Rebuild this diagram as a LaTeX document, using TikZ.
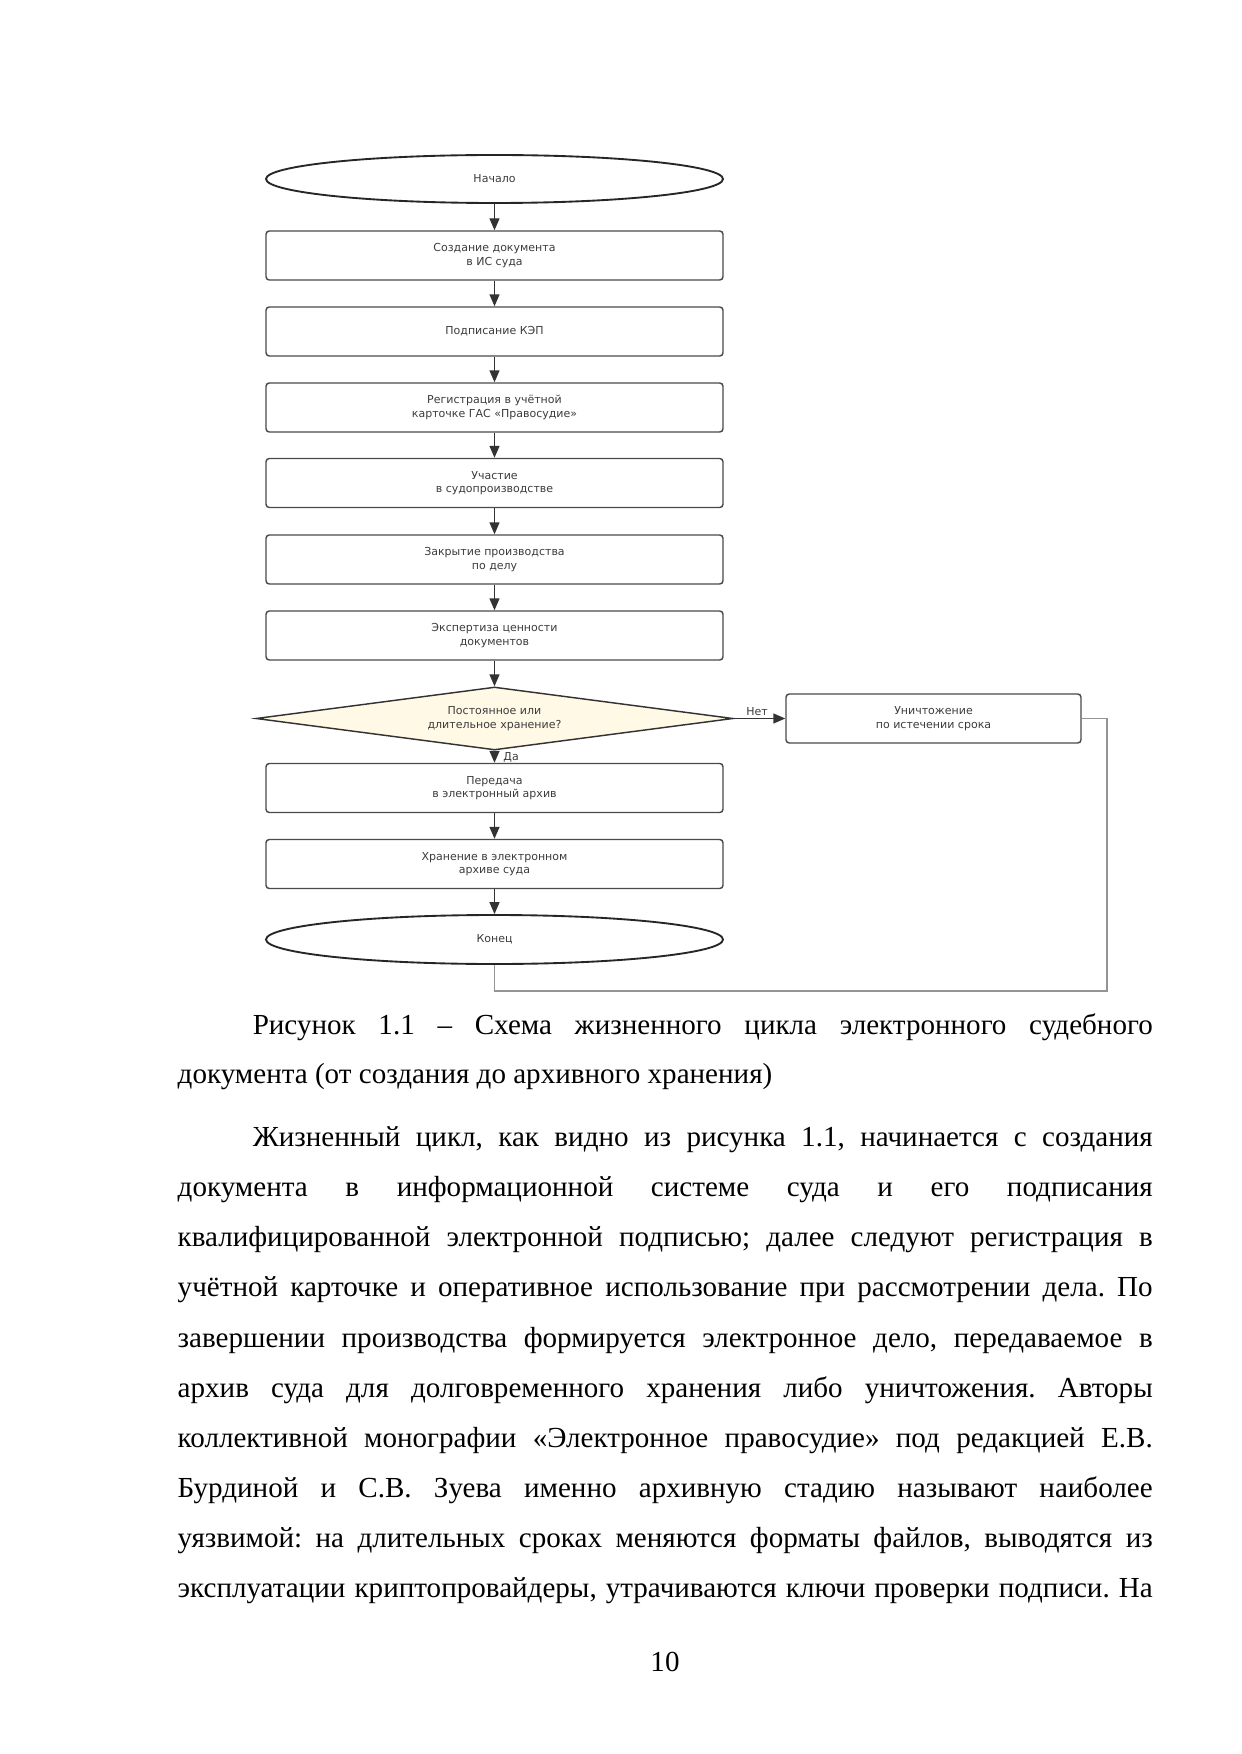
\documentclass[tikz,border=0pt]{standalone}
\usepackage{fontspec}
\setmainfont{Liberation Serif}
\newfontfamily\fcfont{DejaVu Sans}
\usetikzlibrary{shapes.geometric,arrows.meta}
\newlength\pxl
\setlength\pxl{0.169218mm}
\definecolor{lineclr}{HTML}{333333}
\definecolor{boxclr}{HTML}{4A4A4A}
\definecolor{txtclr}{HTML}{3C3C3C}
\definecolor{diafill}{RGB}{255,249,230}
\frenchspacing
\begin{document}
\begin{tikzpicture}[x=0.169218mm, y=-0.169218mm,
  fcfontstyle/.style={font=\fcfont\fontsize{5.3pt}{6.6pt}\selectfont, text=txtclr},
  fcbox/.style={draw=boxclr, line width=0.7pt, rounded corners=0.55mm, fill=white,
    minimum width=457\pxl, minimum height=49\pxl, inner sep=0pt, align=center, fcfontstyle},
  fcterm/.style={ellipse, draw=black!85, line width=0.9pt, fill=white,
    minimum width=457\pxl, minimum height=48\pxl, inner sep=0pt, fcfontstyle},
  fcdia/.style={diamond, draw=black!80, line width=0.7pt, fill=diafill,
    minimum width=477\pxl, minimum height=63\pxl, inner sep=0pt},
  fctext/.style={inner sep=0pt, align=center, fcfontstyle},
  flow/.style={draw=lineclr, line width=0.7pt, -{Triangle[length=2.03mm,width=1.69mm]}},
  backline/.style={draw=black!42, line width=0.6pt},
  flbl/.style={inner sep=0pt, fcfontstyle},
  bodyline/.style={anchor=base west, inner sep=0pt, font=\fontsize{14pt}{24pt}\selectfont},
]
\useasboundingbox (0,0) rectangle (1241,1754);
\fill[white] (0,0) rectangle (1241,1754);

% flowchart
\node[fcterm] (start) at (494.5,179) {Начало};
\node[fcbox] (b1) at (494.5,255.5) {Создание документа\\в ИС суда};
\node[fcbox] (b2) at (494.5,331.5) {Подписание КЭП};
\node[fcbox] (b3) at (494.5,407.5) {Регистрация в учётной\\карточке ГАС «Правосудие»};
\node[fcbox] (b4) at (494.5,483) {Участие\\в судопроизводстве};
\node[fcbox] (b5) at (494.5,559.5) {Закрытие производства\\по делу};
\node[fcbox] (b6) at (494.5,635.5) {Экспертиза ценности\\документов};
\node[fcdia] (dec) at (494.5,718.5) {};
\node[fctext] (dect) at (dec.center) {Постоянное или\\длительное хранение?};
\node[fcbox, minimum width=295\pxl] (dest) at (933.5,718.5) {Уничтожение\\по истечении срока};
\node[fcbox] (b7) at (494.5,788) {Передача\\в электронный архив};
\node[fcbox] (b8) at (494.5,864) {Хранение в электронном\\архиве суда};
\node[fcterm, minimum height=49\pxl] (end) at (494.5,939.5) {Конец};

\draw[flow] (start) -- (b1);
\draw[flow] (b1) -- (b2);
\draw[flow] (b2) -- (b3);
\draw[flow] (b3) -- (b4);
\draw[flow] (b4) -- (b5);
\draw[flow] (b5) -- (b6);
\draw[flow] (b6) -- (dec.north);
\draw[flow] (dec.south) -- (b7);
\draw[flow] (dec.east) -- (dest.west);
\draw[flow] (b7) -- (b8);
\draw[flow] (b8) -- (end);
\coordinate (rtop) at (1107,718.5);
\coordinate (rbot) at (1107,991);
\draw[backline] (dest.east) -- (rtop) -- (rbot) -| (end.south);
\node[flbl, anchor=base] (lno) at (757,715) {Нет};
\node[flbl, anchor=west] (lyes) at (503,757.5) {Да};

% caption
\node[bodyline] (c1) at (177.3,1034.3) {\hbox to 165mm{\hspace*{1.27cm}Рисунок 1.1 – Схема жизненного цикла электронного судебного}};
\node[bodyline] (c2) at (177.3,1083.3) {документа (от создания до архивного хранения)};

% paragraph
\node[bodyline] (l1) at (177.3,1146.7) {\hbox to 165mm{\hspace*{1.27cm}Жизненный цикл, как видно из рисунка 1.1, начинается с создания}};
\node[bodyline] (l2) at (177.3,1196.8) {\hbox to 165mm{документа в информационной системе суда и его подписания}};
\node[bodyline] (l3) at (177.3,1246.8) {\hbox to 165mm{квалифицированной электронной подписью; далее следуют регистрация в}};
\node[bodyline] (l4) at (177.3,1296.9) {\hbox to 165mm{учётной карточке и оперативное использование при рассмотрении дела. По}};
\node[bodyline] (l5) at (177.3,1347.0) {\hbox to 165mm{завершении производства формируется электронное дело, передаваемое в}};
\node[bodyline] (l6) at (177.3,1397.1) {\hbox to 165mm{архив суда для долговременного хранения либо уничтожения. Авторы}};
\node[bodyline] (l7) at (177.3,1447.1) {\hbox to 165mm{коллективной монографии «Электронное правосудие» под редакцией Е.В.}};
\node[bodyline] (l8) at (177.3,1497.2) {\hbox to 165mm{Бурдиной и С.В. Зуева именно архивную стадию называют наиболее}};
\node[bodyline] (l9) at (177.3,1547.3) {\hbox to 165mm{уязвимой: на длительных сроках меняются форматы файлов, выводятся из}};
\node[bodyline] (l10) at (177.3,1597.3) {\hbox to 165mm{эксплуатации криптопровайдеры, утрачиваются ключи проверки подписи. На}};

% page number
\node[inner sep=0pt, anchor=base, font=\fontsize{14pt}{24pt}\selectfont] (pg) at (665,1671.7) {10};
\end{tikzpicture}
\end{document}
